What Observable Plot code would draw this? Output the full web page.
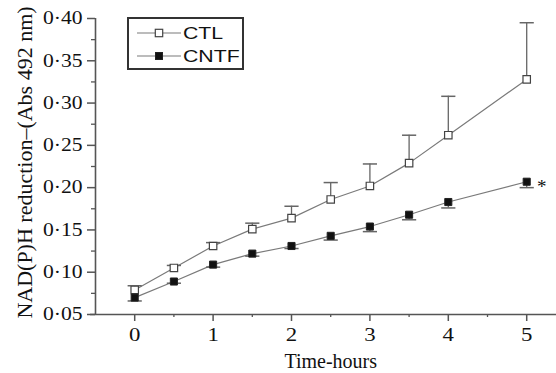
<!DOCTYPE html>
<html>
<head>
<meta charset="utf-8">
<script src="https://cdn.jsdelivr.net/npm/d3@7"></script>
<script src="https://cdn.jsdelivr.net/npm/@observablehq/plot@0.6"></script>
<style>
  html, body { margin: 0; padding: 0; background: #fff; }
  #chart { position: relative; width: 556px; height: 373px; overflow: hidden; }
  #legend { position: absolute; left: 127px; top: 17px; }
</style>
</head>
<body>
<div id="chart"></div>
<script>
// ---- data ----
const hours = [0, 0.5, 1, 1.5, 2, 2.5, 3, 3.5, 4, 5];
const seriesNames = ["CTL", "CNTF"];
const ctlMean  = [0.079, 0.105, 0.131, 0.151, 0.164, 0.186, 0.202, 0.229, 0.262, 0.328];
const ctlErr   = [0.005, 0.003, 0.004, 0.007, 0.014, 0.020, 0.026, 0.033, 0.046, 0.067];
const cntfMean = [0.070, 0.089, 0.109, 0.122, 0.131, 0.143, 0.154, 0.168, 0.183, 0.207];
const cntfErr  = [0.004, 0.002, 0.003, 0.003, 0.003, 0.005, 0.006, 0.006, 0.007, 0.007];
const yTicks = [0.05, 0.10, 0.15, 0.20, 0.25, 0.30, 0.35, 0.40];
const yMinor = [0.075, 0.125, 0.175, 0.225, 0.275, 0.325, 0.375];
const xTicks = [0, 1, 2, 3, 4, 5];
const xMinor = [0.5, 1.5, 2.5, 3.5, 4.5];
const xTitle = "Time-hours";
const yTitle = "NAD(P)H reduction\u2013(Abs 492 nm)";
const sigMark = "*";

// ---- styles ----
const serif = "'Liberation Serif', 'Times New Roman', serif";
const sans = "'Liberation Sans', Arial, sans-serif";
const axisColor = "#555";
const lineColor = "#7a7a7a";
const errColor = "#666";
const fills = {CTL: "#fff", CNTF: "#111"};

const rows = [
  ...hours.map((h, i) => ({hour: h, series: "CTL", mean: ctlMean[i], end: ctlMean[i] + ctlErr[i]})),
  ...hours.map((h, i) => ({hour: h, series: "CNTF", mean: cntfMean[i], end: cntfMean[i] - cntfErr[i]}))
];
const xDomain = [-0.5, 5.38];
const yDomain = [0.05, 0.40];

const capSymbol = {
  draw(ctx, size) {
    const w = Math.sqrt(size) / 2;
    ctx.moveTo(-w, 0);
    ctx.lineTo(w, 0);
  }
};
const fmt = d => d.toFixed(2).replace(".", "\u00b7");

const plot = Plot.plot({
  width: 556,
  height: 373,
  marginLeft: 95,
  marginRight: 0,
  marginTop: 18,
  marginBottom: 59,
  x: {domain: xDomain},
  y: {domain: yDomain},
  style: {fontFamily: serif, background: "#fff", color: "#111", overflow: "visible"},
  marks: [
    Plot.ruleX([xDomain[0]], {y1: yDomain[0], y2: yDomain[1], stroke: axisColor, strokeWidth: 1.6}),
    Plot.ruleY([yDomain[0]], {stroke: axisColor, strokeWidth: 1.6, insetLeft: -5}),
    Plot.axisY({ticks: yTicks, tickSize: 8, tickPadding: 5, tickFormat: fmt, fontSize: 18, label: null, stroke: axisColor, fill: "#111", strokeWidth: 1.5}),
    Plot.axisY({ticks: yMinor, tickSize: 4, text: null, label: null, stroke: axisColor, strokeWidth: 1.3}),
    Plot.axisX({ticks: xTicks, tickSize: 7, tickPadding: 6, tickFormat: d => String(d), fontSize: 19, label: null, stroke: axisColor, fill: "#111", strokeWidth: 1.5}),
    Plot.axisX({ticks: xMinor, tickSize: 3, text: null, label: null, stroke: axisColor, strokeWidth: 1.3}),
    Plot.line(rows, {x: "hour", y: "mean", z: "series", stroke: lineColor, strokeWidth: 1.2}),
    Plot.ruleX(rows, {x: "hour", y1: "mean", y2: "end", stroke: errColor, strokeWidth: 1.3}),
    Plot.dot(rows, {x: "hour", y: "end", symbol: capSymbol, r: 8, fill: "none", stroke: errColor, strokeWidth: 1.5}),
    Plot.dot(rows.filter(d => d.series === "CTL"), {x: "hour", y: "mean", symbol: "square", r: 4.2, fill: fills.CTL, stroke: "#444", strokeWidth: 1.2}),
    Plot.dot(rows.filter(d => d.series === "CNTF"), {x: "hour", y: "mean", symbol: "square", r: 4.0, fill: fills.CNTF, stroke: "#222", strokeWidth: 1}),
    Plot.text([sigMark], {x: hours[hours.length - 1], y: cntfMean[cntfMean.length - 1], text: d => d, dx: 15, dy: 5, fontSize: 19, fontFamily: serif, fill: "#111", textAnchor: "middle"}),
    Plot.text([xTitle], {x: (xTicks[0] + xTicks[xTicks.length - 1]) / 2, frameAnchor: "bottom", text: d => d, dy: 47.5, fontSize: 20, fontFamily: serif, fill: "#111", lineAnchor: "middle", textAnchor: "middle"}),
    Plot.text([yTitle], {frameAnchor: "left", text: d => d, dx: -71, dy: -4, rotate: -90, fontSize: 22, fontFamily: serif, fill: "#111", lineAnchor: "middle", textAnchor: "middle"})
  ]
});

const chart = document.getElementById("chart");
chart.appendChild(plot);

// horizontal widening of tick labels, as in the reference
d3.select(plot).selectAll('g[aria-label="y-axis tick label"] text, g[aria-label="x-axis tick label"] text').each(function () {
  const L = this.getComputedTextLength();
  this.setAttribute("textLength", (L * 1.2).toFixed(1));
  this.setAttribute("lengthAdjust", "spacingAndGlyphs");
});

// ---- legend (boxed, inside the plot area) ----
const lw = 117, lh = 53;
const legend = d3.select(chart).append("div").attr("id", "legend");
const ls = legend.append("svg").attr("width", lw).attr("height", lh);
ls.append("rect").attr("x", 1).attr("y", 1).attr("width", lw - 2).attr("height", lh - 2)
  .attr("fill", "#fff").attr("stroke", "#333").attr("stroke-width", 2);
seriesNames.forEach((name, i) => {
  const cy = 16 + i * 23;
  const g = ls.append("g");
  g.append("line").attr("x1", 10).attr("x2", 54).attr("y1", cy).attr("y2", cy)
    .attr("stroke", lineColor).attr("stroke-width", 1.2);
  const s = name === "CTL" ? 7.4 : 7;
  g.append("rect").attr("x", 32 - s / 2).attr("y", cy - s / 2).attr("width", s).attr("height", s)
    .attr("fill", fills[name]).attr("stroke", name === "CTL" ? "#444" : "#222").attr("stroke-width", name === "CTL" ? 1.2 : 1);
  const t = g.append("text").attr("x", 56).attr("y", cy + 6).attr("font-family", sans)
    .attr("font-size", 17).attr("fill", "#111").text(name);
  const L = t.node().getComputedTextLength();
  t.attr("textLength", (L * 1.25).toFixed(1)).attr("lengthAdjust", "spacingAndGlyphs");
});
</script>
</body>
</html>
